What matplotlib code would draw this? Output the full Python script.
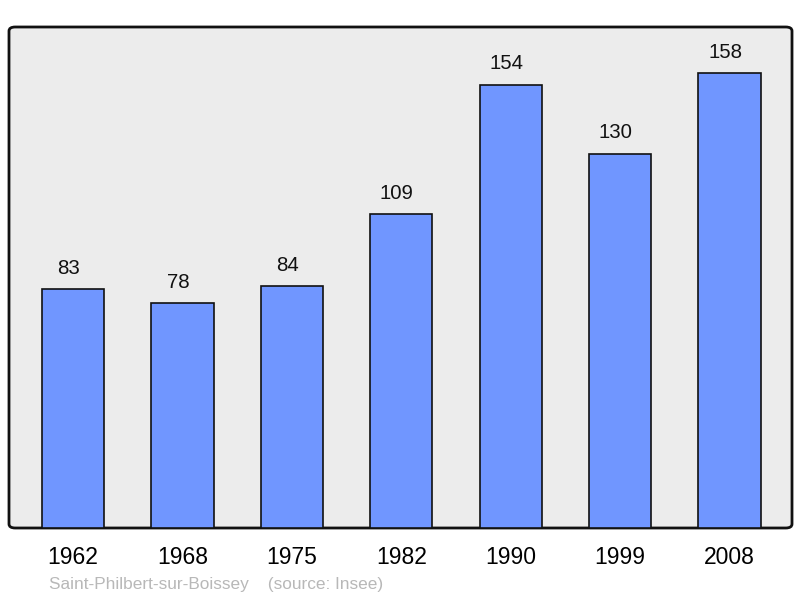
import numpy as np
import matplotlib
matplotlib.use("Agg")
import matplotlib.pyplot as plt
from matplotlib.patches import FancyBboxPatch

years = ["1962", "1968", "1975", "1982", "1990", "1999", "2008"]
population = [83, 78, 84, 109, 154, 130, 158]

plt.rcParams['font.family'] = ['Liberation Sans', 'DejaVu Sans']

fig = plt.figure(figsize=(8, 5.98), dpi=100)
ax = fig.add_axes([9 / 800, 1 - 528 / 598, 783 / 800, 501 / 598])
ax.set_facecolor("none")

# rounded frame behind the bars
frame = FancyBboxPatch((0, 0), 1, 1, boxstyle="round,pad=0,rounding_size=0.008",
                       transform=ax.transAxes, facecolor="#ececec",
                       edgecolor="#111111", linewidth=2, zorder=0, clip_on=False)
ax.add_patch(frame)

x = np.arange(len(years))
ax.bar(x, population, width=0.57, color="#7096ff", edgecolor="#111111",
       linewidth=1.2, zorder=2)
for xi, v in zip(x, population):
    ax.text(xi - 0.04, v + 4, str(v), ha="center", va="bottom", fontsize=14.7,
            color="#111111")

ax.set_xlim(-0.585, 6.571)
ax.set_ylim(0, 174)
for s in ax.spines.values():
    s.set_visible(False)
ax.set_yticks([])
ax.set_xticks(x)
ax.set_xticklabels(years, fontsize=16.5)
ax.tick_params(axis="x", length=0, pad=13)

fig.text(49 / 800, 1 - 584 / 598, "Saint-Philbert-sur-Boissey    (source: Insee)",
         fontsize=12.4, color="#b8b8b8", va="center", ha="left")

fig.savefig("out.png", dpi=100)
